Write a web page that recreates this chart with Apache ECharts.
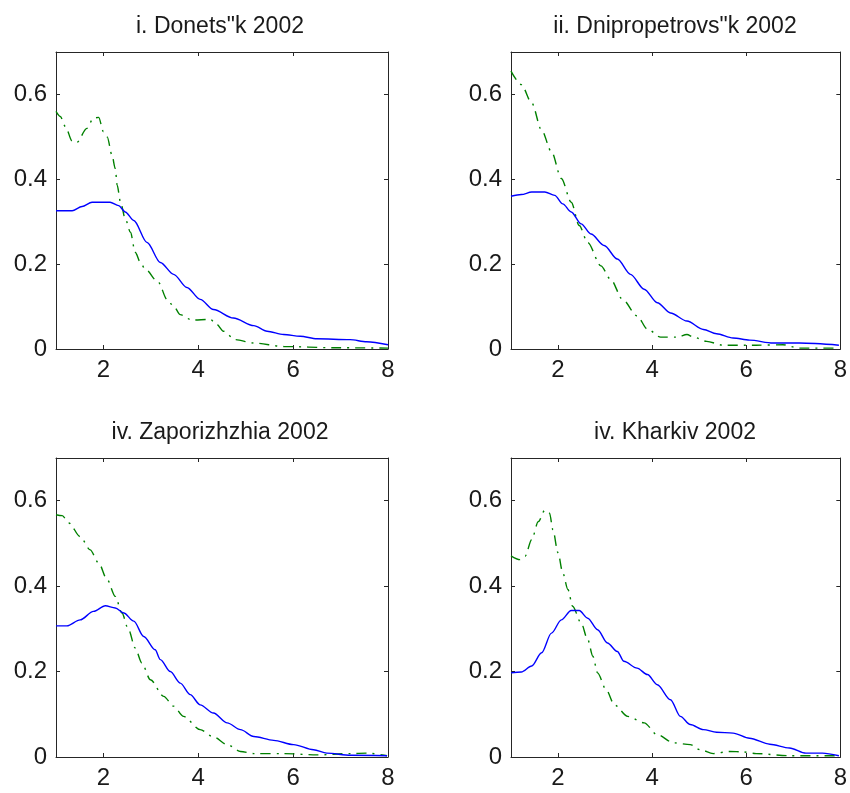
<!DOCTYPE html>
<html>
<head>
<meta charset="utf-8">
<script src="https://cdn.jsdelivr.net/npm/echarts@6/dist/echarts.min.js"></script>
<style>
  html, body { margin: 0; padding: 0; background: #ffffff; }
  #chart { width: 850px; height: 793px; }
</style>
</head>
<body>
<div id="chart"></div>
<script>
// Panel titles
const titles = ['i. Donets"k 2002', 'ii. Dnipropetrovs"k 2002', 'iv. Zaporizhzhia 2002', 'iv. Kharkiv 2002'];

// Tick positions
const xTicks = [2, 4, 6, 8];
const yTicks = [0, 0.2, 0.4, 0.6];

// Density curves: [x, y] pairs, solid blue
const donetskSolid = [[1.0,0.326],[1.34,0.326],[1.55,0.336],[1.76,0.346],[2.14,0.346],[2.32,0.338],[2.46,0.323],[2.64,0.303],[2.92,0.251],[3.2,0.204],[3.48,0.176],[3.76,0.145],[4.04,0.117],[4.32,0.093],[4.74,0.073],[5.17,0.055],[5.45,0.042],[5.8,0.034],[6.15,0.030],[6.5,0.024],[7.2,0.022],[7.55,0.017],[8.0,0.010]];
// dash-dot green
const donetskDashed = [[1.0,0.56],[1.09,0.548],[1.2,0.524],[1.34,0.49],[1.44,0.487],[1.65,0.52],[1.79,0.544],[1.9,0.546],[2.0,0.512],[2.08,0.50],[2.18,0.457],[2.25,0.425],[2.29,0.386],[2.36,0.346],[2.46,0.307],[2.57,0.275],[2.67,0.228],[2.78,0.204],[2.88,0.188],[3.16,0.157],[3.34,0.117],[3.48,0.101],[3.62,0.081],[3.87,0.068],[4.25,0.070],[4.39,0.058],[4.53,0.042],[4.78,0.022],[5.17,0.014],[5.8,0.006],[6.85,0.003],[8.0,0.002]];

const dniproSolid = [[1.0,0.360],[1.22,0.364],[1.44,0.370],[1.72,0.370],[1.93,0.362],[2.10,0.342],[2.28,0.323],[2.49,0.295],[2.70,0.271],[2.98,0.244],[3.26,0.212],[3.54,0.176],[3.83,0.141],[4.11,0.109],[4.39,0.085],[4.74,0.066],[5.09,0.046],[5.37,0.036],[5.72,0.026],[6.07,0.021],[6.57,0.014],[7.13,0.014],[7.97,0.009]];
const dniproDashed = [[1.0,0.655],[1.22,0.623],[1.44,0.580],[1.65,0.516],[1.86,0.465],[2.07,0.402],[2.28,0.346],[2.45,0.291],[2.63,0.251],[2.91,0.196],[3.12,0.164],[3.37,0.117],[3.68,0.078],[3.90,0.047],[4.18,0.028],[4.53,0.028],[4.74,0.034],[4.88,0.028],[5.16,0.018],[5.51,0.009],[6.21,0.009],[6.78,0.010],[7.13,0.002],[7.97,0.002]];

const zaporSolid = [[1.0,0.307],[1.23,0.307],[1.51,0.321],[1.79,0.341],[2.04,0.354],[2.25,0.349],[2.43,0.337],[2.64,0.318],[2.85,0.282],[3.09,0.251],[3.20,0.228],[3.41,0.200],[3.62,0.173],[3.83,0.146],[4.04,0.122],[4.32,0.103],[4.61,0.080],[4.89,0.064],[5.17,0.048],[5.59,0.039],[6.01,0.029],[6.43,0.017],[6.71,0.009],[7.21,0.004],[7.98,0.003]];
const zaporDashed = [[1.0,0.567],[1.13,0.565],[1.27,0.548],[1.51,0.516],[1.72,0.485],[1.90,0.454],[2.08,0.415],[2.25,0.376],[2.39,0.337],[2.53,0.298],[2.67,0.255],[2.81,0.220],[2.99,0.181],[3.27,0.142],[3.48,0.119],[3.69,0.095],[4.04,0.064],[4.32,0.047],[4.61,0.029],[4.89,0.013],[5.17,0.008],[5.80,0.008],[6.50,0.005],[7.21,0.008],[7.56,0.009],[7.98,0.003]];

const kharkivSolid = [[1.0,0.197],[1.22,0.199],[1.44,0.213],[1.65,0.244],[1.86,0.290],[2.07,0.321],[2.28,0.343],[2.45,0.343],[2.63,0.325],[2.84,0.298],[3.05,0.267],[3.26,0.247],[3.40,0.224],[3.68,0.208],[3.90,0.193],[4.11,0.169],[4.39,0.134],[4.60,0.095],[4.81,0.076],[5.09,0.064],[5.37,0.058],[5.72,0.056],[6.07,0.044],[6.50,0.030],[6.92,0.021],[7.27,0.009],[7.62,0.009],[7.97,0.003]];
const kharkivDashed = [[1.0,0.471],[1.19,0.462],[1.30,0.470],[1.44,0.509],[1.58,0.551],[1.72,0.578],[1.82,0.571],[1.89,0.532],[2.00,0.478],[2.10,0.431],[2.21,0.392],[2.31,0.353],[2.49,0.314],[2.63,0.275],[2.74,0.236],[2.84,0.197],[3.02,0.158],[3.20,0.122],[3.48,0.095],[3.83,0.080],[4.11,0.052],[4.46,0.033],[4.81,0.029],[5.02,0.017],[5.30,0.008],[5.65,0.013],[5.93,0.012],[6.21,0.008],[6.92,0.003],[7.97,0.003]];

const solidSets = [donetskSolid, dniproSolid, zaporSolid, kharkivSolid];
const dashedSets = [donetskDashed, dniproDashed, zaporDashed, kharkivDashed];

const FONT = '"Liberation Sans", Arial, sans-serif';
const TEXT = '#1a1a1a';
const FRAME = '#262626';

const grids = [
  { left: 56, top: 52, width: 332, height: 297 },
  { left: 511, top: 52, width: 332, height: 297 },
  { left: 56, top: 458, width: 332, height: 299 },
  { left: 511, top: 458, width: 332, height: 299 }
];

const option = { animation: false, backgroundColor: '#ffffff', title: [], grid: [], xAxis: [], yAxis: [], series: [] };

grids.forEach((g, i) => {
  option.grid.push(g);
  option.title.push({
    text: titles[i],
    left: g.left + g.width / 2 - 7,
    top: g.top - 42,
    textAlign: 'center',
    textStyle: { fontFamily: FONT, fontSize: 23, fontWeight: 'normal', color: TEXT }
  });
  const frameLine = { show: true, onZero: false, lineStyle: { color: FRAME, width: 1 } };
  const tick = { show: true, inside: true, length: 4, lineStyle: { color: FRAME, width: 1 } };
  // bottom axis with labels
  option.xAxis.push({
    type: 'value', gridIndex: i, min: 1, max: 8, position: 'bottom',
    axisLine: frameLine,
    axisTick: Object.assign({ customValues: xTicks }, tick),
    axisLabel: { customValues: xTicks, margin: 9, fontFamily: FONT, fontSize: 24, color: TEXT },
    splitLine: { show: false }
  });
  // top edge of the box
  option.xAxis.push({
    type: 'value', gridIndex: i, min: 1, max: 8, position: 'top',
    axisLine: frameLine,
    axisTick: Object.assign({ customValues: xTicks }, tick),
    axisLabel: { show: false },
    splitLine: { show: false }
  });
  option.yAxis.push({
    type: 'value', gridIndex: i, min: 0, max: 0.7, position: 'left',
    axisLine: frameLine,
    axisTick: Object.assign({ customValues: yTicks }, tick),
    axisLabel: { customValues: yTicks, margin: 9, fontFamily: FONT, fontSize: 24, color: TEXT },
    splitLine: { show: false }
  });
  // right edge of the box
  option.yAxis.push({
    type: 'value', gridIndex: i, min: 0, max: 0.7, position: 'right',
    axisLine: frameLine,
    axisTick: Object.assign({ customValues: yTicks }, tick),
    axisLabel: { show: false },
    splitLine: { show: false }
  });
  option.series.push({
    type: 'line', xAxisIndex: 2 * i, yAxisIndex: 2 * i,
    data: dashedSets[i], showSymbol: false, smooth: 0.3, smoothMonotone: 'x',
    lineStyle: { color: '#008000', width: 1.4, type: [10, 6, 2, 6] }
  });
  option.series.push({
    type: 'line', xAxisIndex: 2 * i, yAxisIndex: 2 * i,
    data: solidSets[i], showSymbol: false, smooth: 0.3, smoothMonotone: 'x',
    lineStyle: { color: '#0000ff', width: 1.4 }
  });
});

const chart = echarts.init(document.getElementById('chart'), null, { renderer: 'canvas' });
chart.setOption(option);
</script>
</body>
</html>
